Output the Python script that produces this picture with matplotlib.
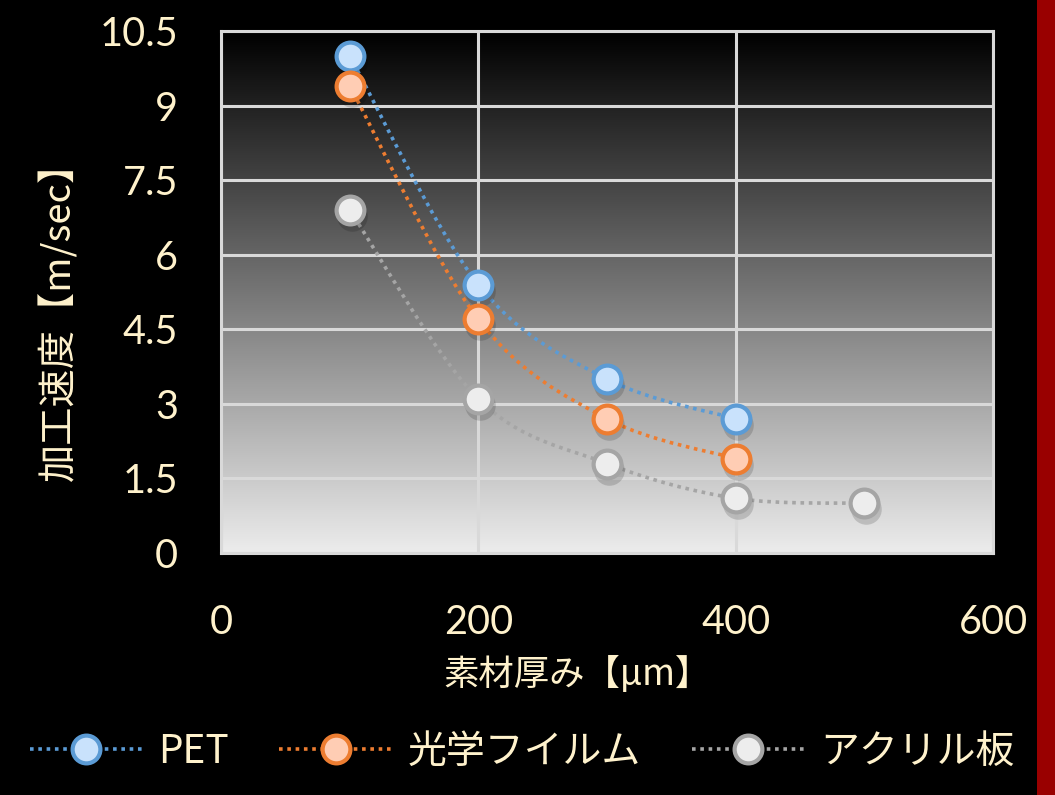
import numpy as np
import matplotlib
matplotlib.use("Agg")
import matplotlib.pyplot as plt
from matplotlib.lines import Line2D
from matplotlib.path import Path
from matplotlib.patches import PathPatch, Rectangle
import matplotlib.transforms as mtransforms

plt.rcParams['font.family'] = ['Lato', 'Noto Sans CJK JP', 'DejaVu Sans']

# ---- data ----
thickness = [100, 200, 300, 400, 500]
pet = [10.0, 5.4, 3.5, 2.7]
optical = [9.4, 4.7, 2.7, 1.9]
acrylic = [6.9, 3.1, 1.8, 1.1, 1.0]
series_names = ['PET', '光学フイルム', 'アクリル板']
xticks = [0, 200, 400, 600]
yticks = [0, 1.5, 3, 4.5, 6, 7.5, 9, 10.5]
xlabel = '素材厚み【μm】'
ylabel = '加工速度【m/sec】'

TXT = '#FFF2CC'
styles = [
    dict(edge='#5B9BD5', fill='#C9E2FC', line='#5B9BD5'),
    dict(edge='#ED7D31', fill='#FFCDB4', line='#ED7D31'),
    dict(edge='#A5A5A5', fill='#EDEDED', line='#A5A5A5'),
]

fig = plt.figure(figsize=(10.55, 7.95), dpi=100, facecolor='black')
ax = fig.add_axes([221/1055, 1-553/795, (993-221)/1055, (553-31)/795])
ax.set_xlim(0, 600)
ax.set_ylim(0, 10.5)

# gradient background
grad = np.linspace(0, 1, 256).reshape(-1, 1)
cmap = matplotlib.colors.LinearSegmentedColormap.from_list('g', ['#ececec', '#000000'])
ax.imshow(grad, extent=[0, 1, 0, 1], transform=ax.transAxes, origin='lower',
          cmap=cmap, aspect='auto', zorder=0)

ax.set_xticks(xticks)
ax.set_yticks(yticks)
ax.set_yticklabels([('%g' % v) for v in yticks])
ax.grid(True, color='#d9d9d9', lw=2.2, zorder=1)
for s in ax.spines.values():
    s.set_color('#d9d9d9')
    s.set_linewidth(2.2)
ax.tick_params(length=0, colors=TXT, labelsize=28.5)
ax.tick_params(axis='y', pad=31)
ax.tick_params(axis='x', pad=37)
ax.set_xlabel(xlabel, color=TXT, fontsize=25.5,
              family=['Noto Sans CJK JP', 'DejaVu Sans'], va='center')
ax.xaxis.set_label_coords((577-221)/772, (553-674)/522)
ax.set_ylabel(ylabel, color=TXT, fontsize=27.5,
              family=['Noto Sans CJK JP', 'DejaVu Sans'], va='center')
ax.yaxis.set_label_coords((60-221)/772, (553-312)/522)


def smooth_path(xs, ys):
    pts = np.column_stack([xs, ys]).astype(float)
    verts = [pts[0]]
    codes = [Path.MOVETO]
    n = len(pts)
    for i in range(n - 1):
        p0 = pts[i - 1] if i > 0 else pts[i]
        p1 = pts[i]
        p2 = pts[i + 1]
        p3 = pts[i + 2] if i + 2 < n else pts[i + 1]
        c1 = p1 + (p2 - p0) / 6.0
        c2 = p2 - (p3 - p1) / 6.0
        verts += [c1, c2, p2]
        codes += [Path.CURVE4] * 3
    return Path(verts, codes)


all_series = [pet, optical, acrylic]
shadow_tr = mtransforms.offset_copy(ax.transData, fig=fig, x=2, y=-6, units='dots')
for vals, st in zip(all_series, styles):
    xs = thickness[:len(vals)]
    patch = PathPatch(smooth_path(xs, vals), facecolor='none', edgecolor=st['line'],
                      lw=2.6, linestyle=(0, (1, 1.3)), zorder=3)
    ax.add_patch(patch)
    ax.plot(xs, vals, 'o', ms=22, mfc='black', mec='none', alpha=0.15,
            transform=shadow_tr, zorder=4)
    ax.plot(xs, vals, 'o', ms=20, mfc=st['fill'], mec=st['edge'], mew=3, zorder=5)

# legend
handles = [Line2D([], [], color=st['line'], lw=2.6, linestyle=(0, (1, 1.3)),
                  marker='o', ms=20, mfc=st['fill'], mec=st['edge'], mew=3)
           for st in styles]
leg = fig.legend(handles, series_names, loc='center', ncol=3,
                 bbox_to_anchor=(522/1055, 1-752/795), frameon=False,
                 prop={'family': ['Noto Sans CJK JP', 'DejaVu Sans'], 'size': 28},
                 handlelength=2.9, handletextpad=0.4, columnspacing=1.3,
                 labelcolor=TXT)

# red bar at right edge
fig.patches.append(Rectangle((1037/1055, 0), 18/1055, 1, transform=fig.transFigure,
                             facecolor='#990000', edgecolor='none', zorder=0))

fig.savefig('out.png', dpi=100, facecolor='black')
